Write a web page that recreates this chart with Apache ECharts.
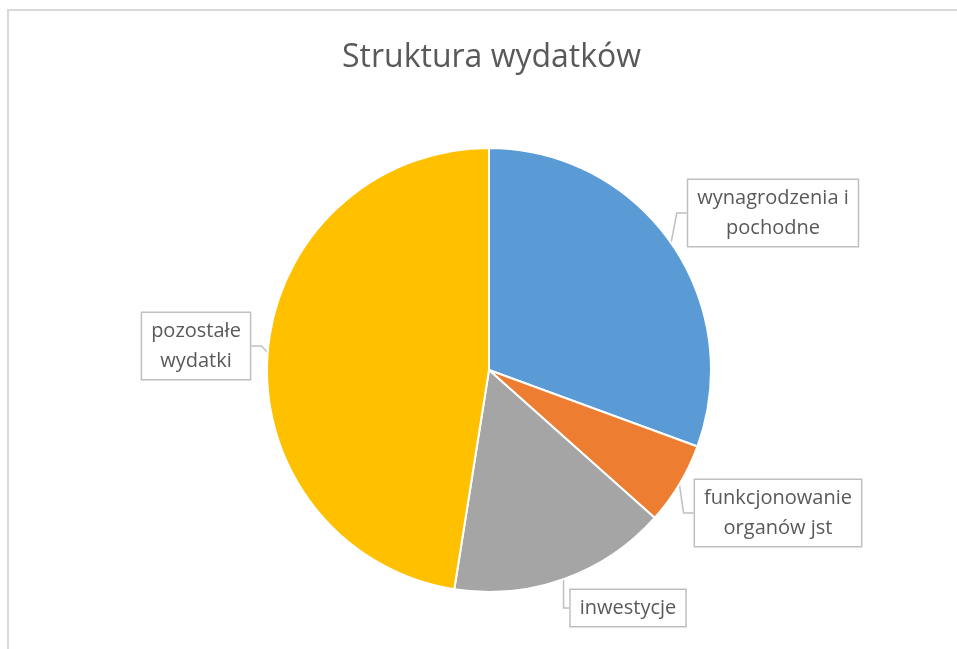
<!DOCTYPE html>
<html>
<head>
<meta charset="utf-8">
<script src="https://cdn.jsdelivr.net/npm/echarts@6/dist/echarts.min.js"></script>
<style>
  html, body { margin: 0; padding: 0; background: #fff; }
  #chart { width: 957px; height: 649px; }
</style>
</head>
<body>
<div id="chart"></div>
<script>
  // dane wykresu
  var categories = ['wynagrodzenia i\npochodne', 'funkcjonowanie\norganów jst', 'inwestycje', 'pozostałe\nwydatki'];
  var values = [30.6, 6.0, 15.9, 47.5];
  var colors = ['#5b9bd5', '#ed7d31', '#a5a5a5', '#ffc000'];

  // srodki etykiet (dymkow)
  var labelPos = [[773, 213], [778, 513], [628, 608], [196, 346]];

  var myChart = echarts.init(document.getElementById('chart'));

  var data = categories.map(function (c, i) {
    return { name: c, value: values[i], itemStyle: { color: colors[i] } };
  });

  var option = {
    animation: false,
    title: {
      text: 'Struktura wydatków',
      left: 337,
      top: 37,
      textStyle: { fontFamily: 'Open Sans', fontSize: 32, fontWeight: 'normal', color: '#595959' }
    },
    graphic: [{
      type: 'rect',
      shape: { x: 8, y: 10, width: 1200, height: 1000 },
      style: { fill: 'none', stroke: '#d9d9d9', lineWidth: 2 },
      silent: true
    }],
    series: [{
      type: 'pie',
      center: [489, 370],
      radius: [0, 222],
      startAngle: 90,
      clockwise: true,
      data: data,
      itemStyle: { borderColor: '#fff', borderWidth: 2 },
      label: {
        show: true,
        position: 'outside',
        formatter: '{b}',
        fontFamily: 'Open Sans',
        fontSize: 20,
        lineHeight: 30,
        color: '#595959',
        align: 'center',
        backgroundColor: '#fff',
        borderColor: '#bfbfbf',
        borderWidth: 1.5,
        padding: [3, 9]
      },
      labelLine: {
        show: true,
        length: 10,
        length2: 10,
        lineStyle: { color: '#bfbfbf', width: 1.5 }
      },
      labelLayout: function (params) {
        var p = labelPos[params.dataIndex];
        return { x: p[0], y: p[1], align: 'center', verticalAlign: 'middle' };
      },
      emphasis: { disabled: true }
    }]
  };

  myChart.setOption(option);
</script>
</body>
</html>
